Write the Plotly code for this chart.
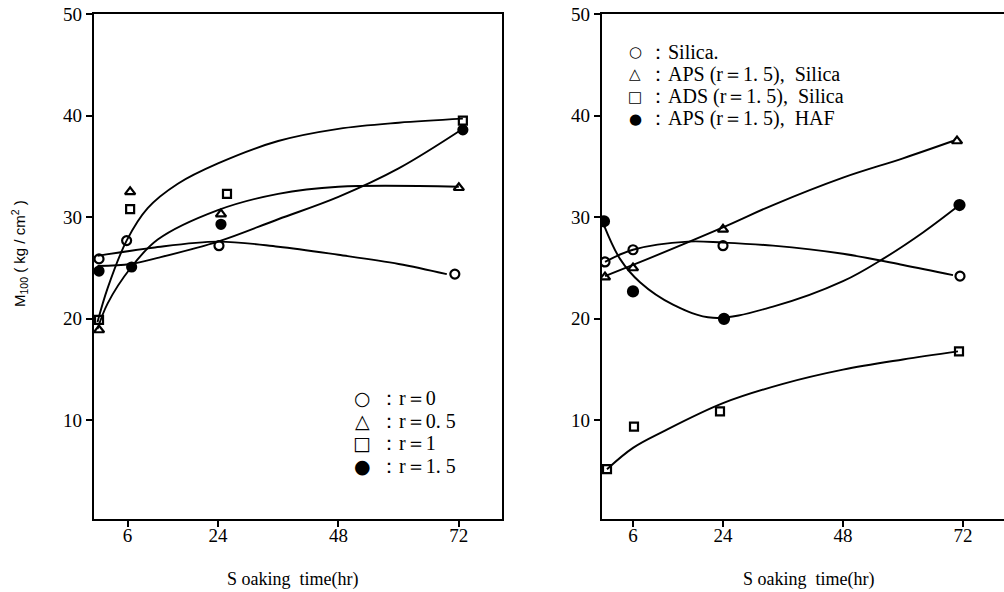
import plotly.graph_objects as go

# ---------------- data ----------------
# Left panel: measured points (hours, M100)
r0_x = [0.3, 5.8, 24.2, 71.2]
r0_y = [25.9, 27.7, 27.2, 24.4]
r05_x = [0.3, 6.5, 24.6, 72.0]
r05_y = [18.9, 32.5, 30.3, 32.9]
r1_x = [0.3, 6.5, 25.8, 72.8]
r1_y = [19.9, 30.8, 32.3, 39.5]
r15_x = [0.3, 6.8, 24.6, 72.8]
r15_y = [24.7, 25.1, 29.3, 38.6]

# Left panel: hand-drawn fitted curves
curveA_x = [0, 11, 24, 36, 48, 60, 69.6]
curveA_y = [26.2, 27.0, 27.6, 27.1, 26.3, 25.4, 24.4]
curveB_x = [0, 2, 5.8, 10, 16, 24, 36, 48, 60, 72.8]
curveB_y = [19.7, 23.0, 27.7, 30.9, 33.3, 35.3, 37.5, 38.7, 39.3, 39.7]
curveC_x = [0, 2, 6.6, 12, 24, 36, 48, 72]
curveC_y = [19.0, 21.5, 25.0, 27.8, 30.7, 32.3, 33.0, 33.0]
curveD_x = [0, 6.6, 12, 24, 36, 48, 60, 72.8]
curveD_y = [25.2, 25.4, 26.0, 27.6, 29.8, 32.0, 34.8, 38.7]

# Right panel: measured points
sil_x = [0.4, 6.0, 24.0, 71.4]
sil_y = [25.6, 26.8, 27.2, 24.2]
aps_x = [0.4, 6.0, 24.0, 70.8]
aps_y = [24.1, 25.0, 28.8, 37.5]
ads_x = [0.8, 6.2, 23.4, 71.2]
ads_y = [5.2, 9.4, 10.9, 16.8]
haf_x = [0.2, 6.0, 24.2, 71.3]
haf_y = [29.6, 22.7, 20.0, 31.2]

# Right panel: fitted curves
silC_x = [0.4, 6, 17, 24, 34, 48, 60, 70]
silC_y = [25.6, 26.8, 27.6, 27.5, 27.2, 26.4, 25.3, 24.3]
apsC_x = [0.4, 6, 24, 34, 48, 60, 70]
apsC_y = [24.2, 25.3, 29.0, 31.2, 33.9, 35.8, 37.5]
adsC_x = [0.8, 6, 12, 24, 36, 48, 60, 71]
adsC_y = [5.2, 7.3, 8.9, 11.7, 13.6, 15.0, 16.0, 16.8]
hafC_x = [0.2, 3.4, 7.4, 14, 22, 34, 48, 56, 64, 71.3]
hafC_y = [29.2, 25.9, 23.6, 21.4, 20.1, 21.2, 23.7, 25.9, 28.5, 31.2]

x_ticks = [6, 24, 48, 72]
x_ticktext = ["6", "24", "48", "72"]
y_ticks = [10, 20, 30, 40, 50]

legend_symbols = ["○", "△", "□", "●"]
left_legend = ["：r＝0", "：r＝0. 5", "：r＝1", "：r＝1. 5"]
right_legend = ["：Silica.", "：APS (r＝1. 5),  Silica",
                "：ADS (r＝1. 5),  Silica", "：APS (r＝1. 5),  HAF"]

# ---------------- figure ----------------
W, H = 1004, 592
FONT = "Liberation Serif"
fig = go.Figure()

def curve(x, y, xa, ya):
    fig.add_trace(go.Scatter(x=x, y=y, mode="lines", xaxis=xa, yaxis=ya,
                             line=dict(color="black", width=1.9, shape="spline", smoothing=1.0),
                             showlegend=False, hoverinfo="skip"))

def pts(x, y, xa, ya, symbol, size=9):
    fig.add_trace(go.Scatter(x=x, y=y, mode="markers", xaxis=xa, yaxis=ya,
                             marker=dict(symbol=symbol, size=size, color="black",
                                         line=dict(color="black", width=2.2)),
                             showlegend=False))

for cx, cy in [(curveA_x, curveA_y), (curveB_x, curveB_y), (curveC_x, curveC_y), (curveD_x, curveD_y)]:
    curve(cx, cy, "x", "y")
pts(r0_x, r0_y, "x", "y", "circle-open", 9)
pts(r05_x, r05_y, "x", "y", "triangle-up-open", 9)
pts(r1_x, r1_y, "x", "y", "square-open", 8)
pts(r15_x, r15_y, "x", "y", "circle", 9)

for cx, cy in [(silC_x, silC_y), (apsC_x, apsC_y), (adsC_x, adsC_y), (hafC_x, hafC_y)]:
    curve(cx, cy, "x2", "y2")
pts(sil_x, sil_y, "x2", "y2", "circle-open", 9)
pts(aps_x, aps_y, "x2", "y2", "triangle-up-open", 9)
pts(ads_x, ads_y, "x2", "y2", "square-open", 8)
pts(haf_x, haf_y, "x2", "y2", "circle", 10)

ydom = [(H - 519) / H, (H - 14) / H]
axis_common = dict(showgrid=False, zeroline=False, showline=True, linecolor="black",
                   linewidth=2.4, ticks="outside", ticklen=6, tickwidth=2, tickcolor="black",
                   automargin=False,
                   tickfont=dict(family=FONT, size=19, color="black"))

fig.update_layout(
    width=W, height=H, margin=dict(l=0, r=0, t=0, b=0, autoexpand=False),
    paper_bgcolor="white", plot_bgcolor="white", showlegend=False,
    xaxis=dict(domain=[94 / W, 502 / W], range=[-0.7, 80.6], tickvals=x_ticks,
               ticktext=x_ticktext, mirror=True, anchor="y", ticklabelstandoff=-8, **axis_common),
    yaxis=dict(domain=ydom, range=[0.3, 50.0], tickvals=y_ticks, mirror=True,
               anchor="x", **axis_common),
    xaxis2=dict(domain=[602 / W, 1.0], range=[-0.2, 80.2], tickvals=x_ticks,
                ticktext=x_ticktext, mirror=True, anchor="y2", ticklabelstandoff=-8, **axis_common),
    yaxis2=dict(domain=ydom, range=[0.3, 50.0], tickvals=y_ticks, mirror=False,
                anchor="x2", **axis_common),
)

ann = []
# axis titles
for xc in [292 / W, 808 / W]:
    ann.append(dict(x=xc, y=(H - 579) / H, xref="paper", yref="paper", showarrow=False,
                    text="S oaking  time(hr)", font=dict(family=FONT, size=18, color="black"),
                    xanchor="center", yanchor="middle"))
ann.append(dict(x=19 / W, y=(H - 254) / H, xref="paper", yref="paper", showarrow=False,
                text="M<sub>100</sub> ( kg / cm<sup>2</sup> )", textangle=-90,
                font=dict(family="Liberation Sans", size=15, color="black"),
                xanchor="center", yanchor="middle"))
# legends
for i, (s, t) in enumerate(zip(legend_symbols, left_legend)):
    yc = (H - (398 + i * 22.7)) / H
    ann.append(dict(x=362 / W, y=yc, xref="paper", yref="paper", showarrow=False, text=s,
                    font=dict(family="DejaVu Sans", size=19, color="black"),
                    xanchor="center", yanchor="middle"))
    ann.append(dict(x=377 / W, y=yc, xref="paper", yref="paper", showarrow=False, text=t,
                    font=dict(family=FONT, size=20, color="black"),
                    xanchor="left", yanchor="middle"))
for i, (s, t) in enumerate(zip(legend_symbols, right_legend)):
    yc = (H - (52 + i * 22.3)) / H
    ann.append(dict(x=635 / W, y=yc, xref="paper", yref="paper", showarrow=False, text=s,
                    font=dict(family="DejaVu Sans", size=15, color="black"),
                    xanchor="center", yanchor="middle"))
    ann.append(dict(x=646 / W, y=yc, xref="paper", yref="paper", showarrow=False, text=t,
                    font=dict(family=FONT, size=20, color="black"),
                    xanchor="left", yanchor="middle"))
fig.update_layout(annotations=ann)

fig.write_html("out.html")
